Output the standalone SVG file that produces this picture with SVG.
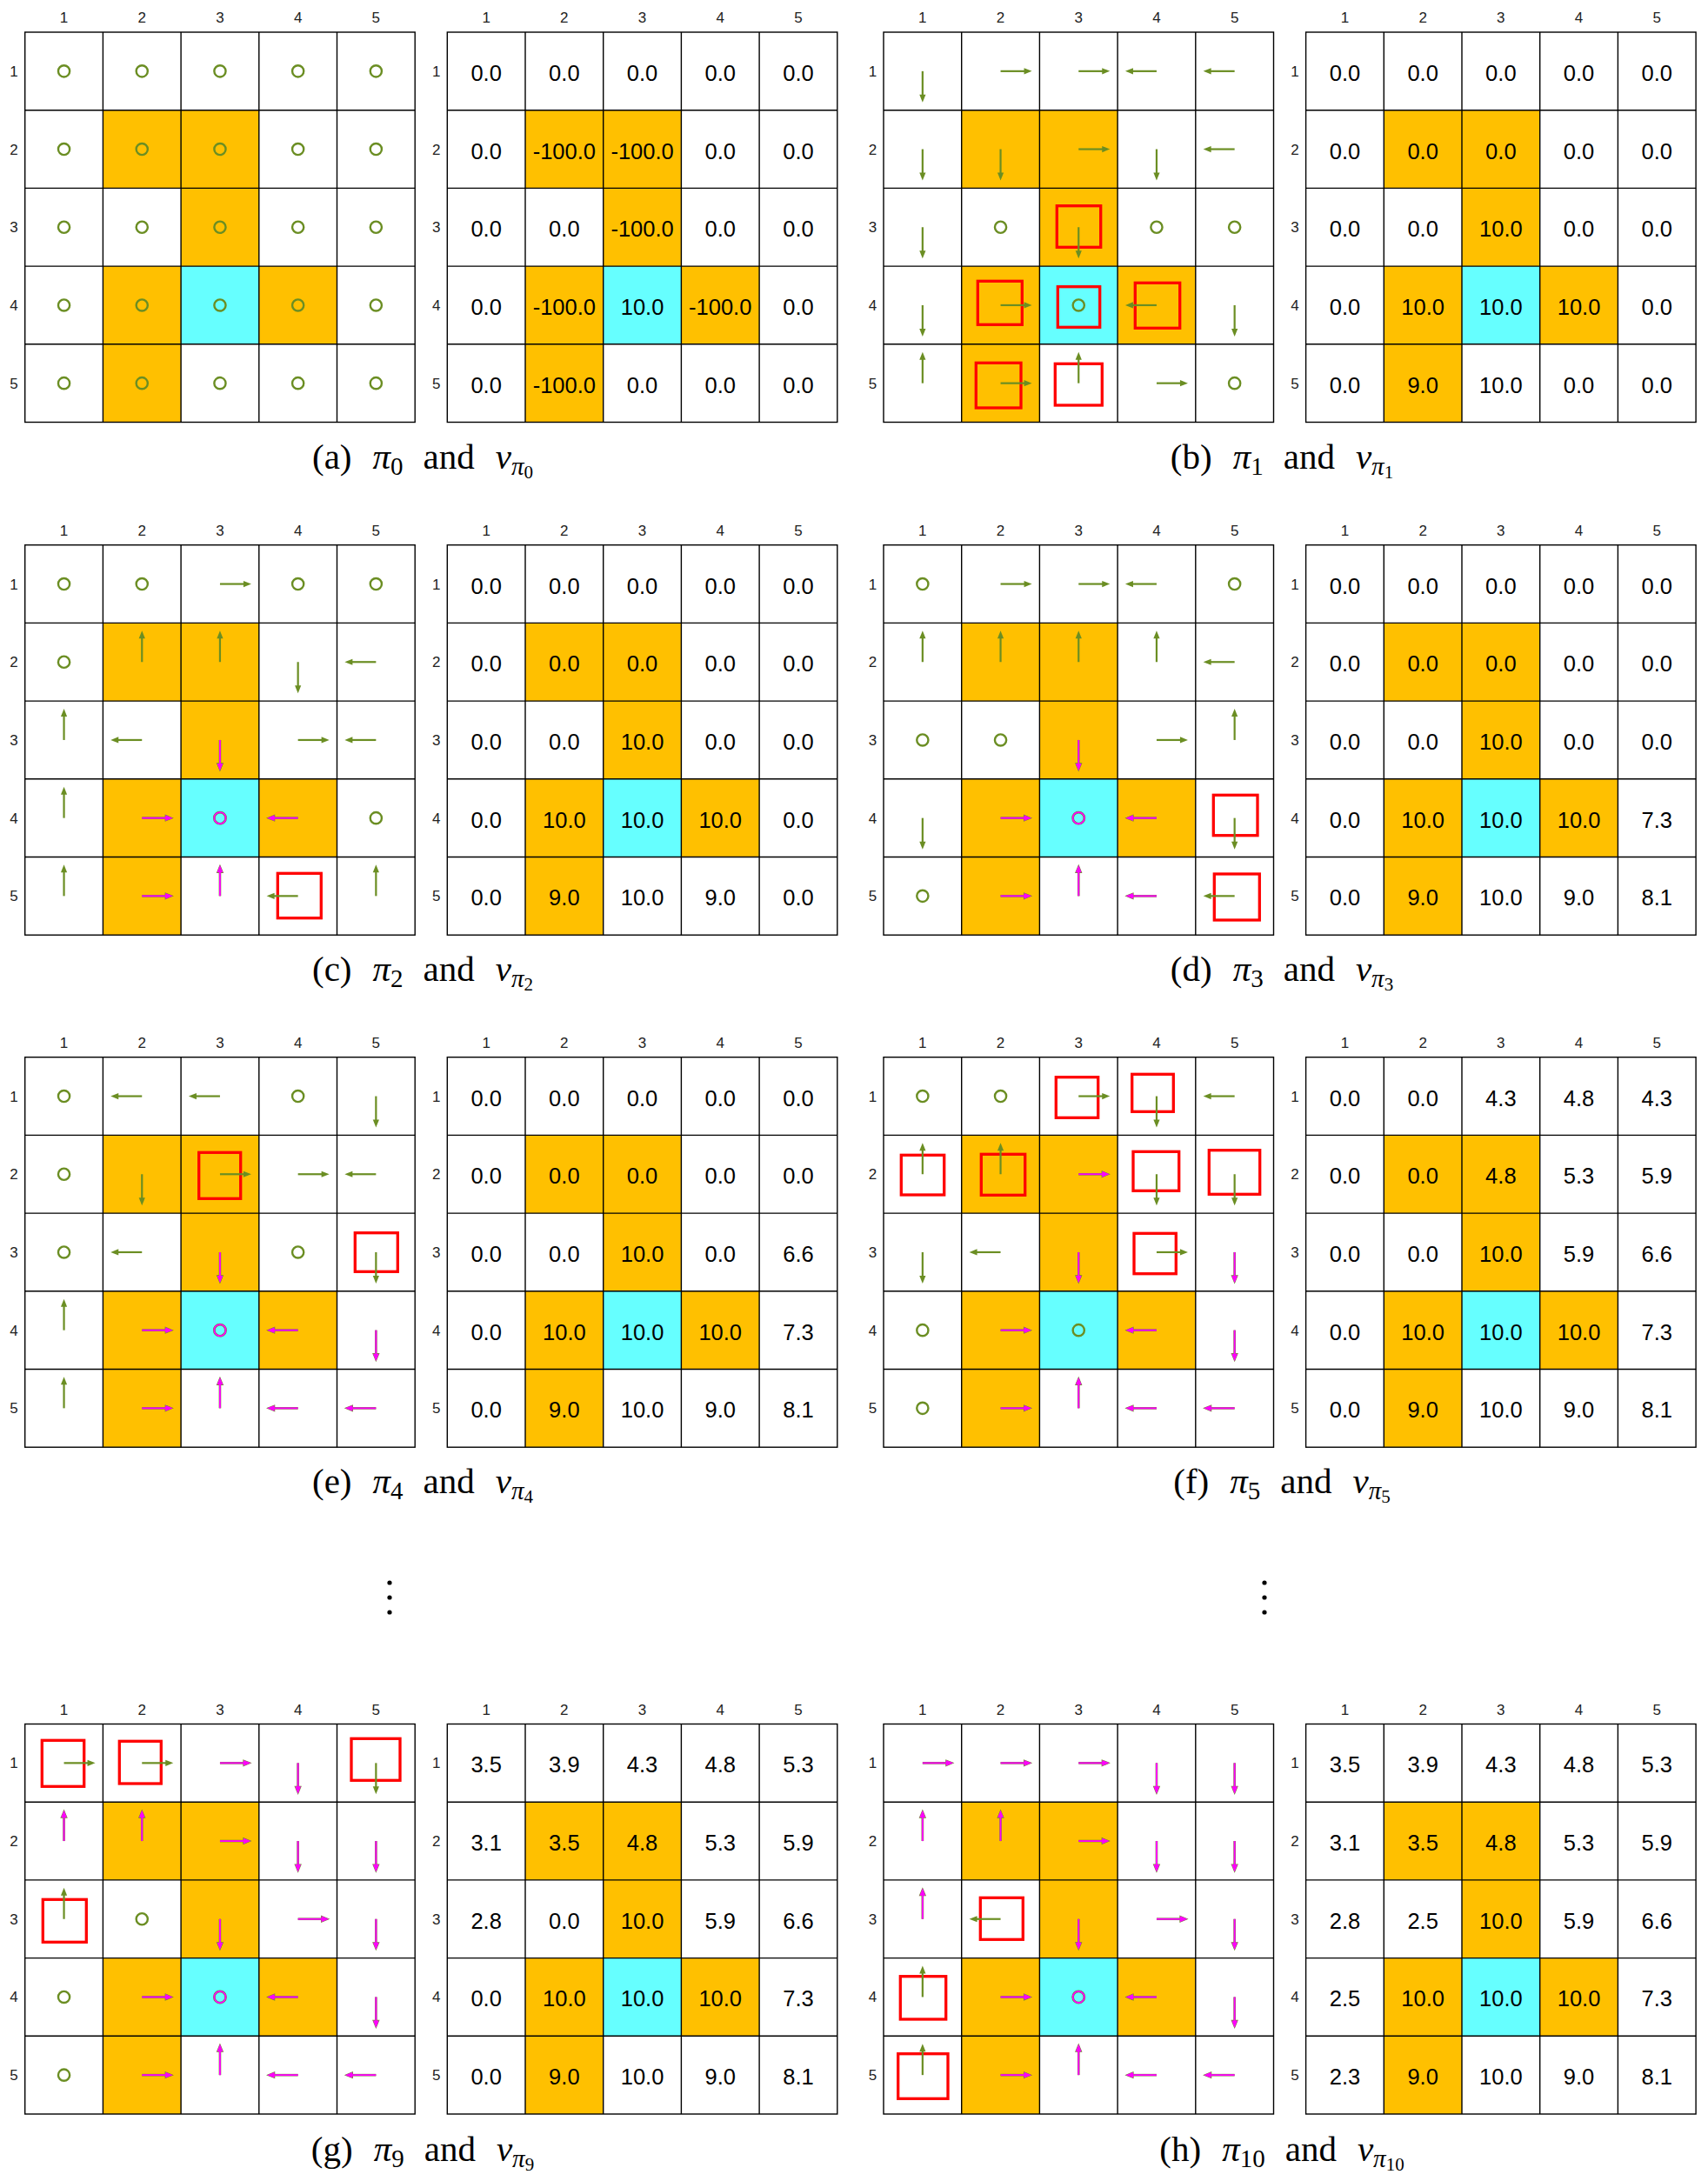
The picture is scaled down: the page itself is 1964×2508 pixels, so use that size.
<svg xmlns="http://www.w3.org/2000/svg" xmlns:xlink="http://www.w3.org/1999/xlink" width="1964" height="2508" viewBox="0 0 1964 2508">
<style>
.o{fill:#FFC000}.c{fill:#66FFFF}
.ln{fill:none;stroke:#000;stroke-width:1.4}
.gs{stroke:#6B8E23;stroke-width:2.2;fill:none}
.gf{fill:#6B8E23}
.ms0{stroke:#6B8E23;stroke-width:2.6;fill:none}
.ms{stroke:#FF00FF;stroke-width:1.9;fill:none}
.mf{fill:#FF00FF}
.gc{fill:none;stroke:#6B8E23;stroke-width:2.4}
.gc2{fill:none;stroke:#6B8E23;stroke-width:2.7}
.mc{fill:none;stroke:#FF00FF;stroke-width:1.8}
.lab{font-family:"Liberation Sans",Arial,sans-serif;font-size:17px;fill:#222;text-anchor:middle}
.v{font-family:"Liberation Sans",Arial,sans-serif;font-size:25.5px;fill:#000;text-anchor:middle}
.cap{font-family:"Liberation Serif","Times New Roman",serif;font-size:41px;fill:#000;text-anchor:middle}
.it{font-style:italic}
.rs{fill:none;stroke:#FF0000;stroke-width:3.3}
</style>
<defs>
<g id="fills"><rect x="89.7" y="89.7" width="179.4" height="89.7" class="o"/><rect x="179.4" y="179.4" width="89.7" height="89.7" class="o"/><rect x="89.7" y="269.1" width="89.7" height="179.4" class="o"/><rect x="269.1" y="269.1" width="89.7" height="89.7" class="o"/><rect x="179.4" y="269.1" width="89.7" height="89.7" class="c"/></g>
<g id="lines"><rect x="0" y="0" width="448.5" height="448.5" class="ln"/><path class="ln" d="M89.7,0V448.5M179.4,0V448.5M269.1,0V448.5M358.8,0V448.5M0,89.7H448.5M0,179.4H448.5M0,269.1H448.5M0,358.8H448.5"/></g>
<g id="lab"><text class="lab" x="44.85" y="-11">1</text><text class="lab" x="134.55" y="-11">2</text><text class="lab" x="224.25" y="-11">3</text><text class="lab" x="313.95" y="-11">4</text><text class="lab" x="403.65" y="-11">5</text><text class="lab" x="-12.6" y="50.85">1</text><text class="lab" x="-12.6" y="140.55">2</text><text class="lab" x="-12.6" y="230.25">3</text><text class="lab" x="-12.6" y="319.95">4</text><text class="lab" x="-12.6" y="409.65">5</text></g>
<g id="gR"><path d="M0,0H28" class="gs"/><path d="M27,-3.6L36,0L27,3.6Z" class="gf"/></g>
<g id="gL" transform="rotate(180)"><use href="#gR"/></g>
<g id="gU" transform="rotate(-90)"><use href="#gR"/></g>
<g id="gD" transform="rotate(90)"><use href="#gR"/></g>
<g id="mR"><path d="M0,0H28" class="ms0"/><path d="M26.4,-4.2L36.6,0L26.4,4.2Z" class="gf"/><path d="M0,0H28" class="ms"/><path d="M27,-3.4L35.6,0L27,3.4Z" class="mf"/></g>
<g id="mL" transform="rotate(180)"><use href="#mR"/></g>
<g id="mU" transform="rotate(-90)"><use href="#mR"/></g>
<g id="mD" transform="rotate(90)"><use href="#mR"/></g>
<circle id="gC" r="6.6" class="gc"/>
<g id="mC"><circle r="6.6" class="gc2"/><circle r="6.6" class="mc"/></g>
</defs>
<rect width="1964" height="2508" fill="#fff"/>

<!-- panel a -->
<g id="panel-a">
<g id="a-policy" transform="translate(28.7,37)"><use href="#fills"/><use href="#lines"/><use href="#lab"/>
<use href="#gC" x="44.85" y="44.85"/><use href="#gC" x="134.55" y="44.85"/><use href="#gC" x="224.25" y="44.85"/><use href="#gC" x="313.95" y="44.85"/><use href="#gC" x="403.65" y="44.85"/>
<use href="#gC" x="44.85" y="134.55"/><use href="#gC" x="134.55" y="134.55"/><use href="#gC" x="224.25" y="134.55"/><use href="#gC" x="313.95" y="134.55"/><use href="#gC" x="403.65" y="134.55"/>
<use href="#gC" x="44.85" y="224.25"/><use href="#gC" x="134.55" y="224.25"/><use href="#gC" x="224.25" y="224.25"/><use href="#gC" x="313.95" y="224.25"/><use href="#gC" x="403.65" y="224.25"/>
<use href="#gC" x="44.85" y="313.95"/><use href="#gC" x="134.55" y="313.95"/><use href="#gC" x="224.25" y="313.95"/><use href="#gC" x="313.95" y="313.95"/><use href="#gC" x="403.65" y="313.95"/>
<use href="#gC" x="44.85" y="403.65"/><use href="#gC" x="134.55" y="403.65"/><use href="#gC" x="224.25" y="403.65"/><use href="#gC" x="313.95" y="403.65"/><use href="#gC" x="403.65" y="403.65"/>
</g>
<g id="a-values" transform="translate(514.3,37)"><use href="#fills"/><use href="#lines"/><use href="#lab"/>
<text class="v" x="44.85" y="55.85">0.0</text><text class="v" x="134.55" y="55.85">0.0</text><text class="v" x="224.25" y="55.85">0.0</text><text class="v" x="313.95" y="55.85">0.0</text><text class="v" x="403.65" y="55.85">0.0</text>
<text class="v" x="44.85" y="145.55">0.0</text><text class="v" x="134.55" y="145.55">-100.0</text><text class="v" x="224.25" y="145.55">-100.0</text><text class="v" x="313.95" y="145.55">0.0</text><text class="v" x="403.65" y="145.55">0.0</text>
<text class="v" x="44.85" y="235.25">0.0</text><text class="v" x="134.55" y="235.25">0.0</text><text class="v" x="224.25" y="235.25">-100.0</text><text class="v" x="313.95" y="235.25">0.0</text><text class="v" x="403.65" y="235.25">0.0</text>
<text class="v" x="44.85" y="324.95">0.0</text><text class="v" x="134.55" y="324.95">-100.0</text><text class="v" x="224.25" y="324.95">10.0</text><text class="v" x="313.95" y="324.95">-100.0</text><text class="v" x="403.65" y="324.95">0.0</text>
<text class="v" x="44.85" y="414.65">0.0</text><text class="v" x="134.55" y="414.65">-100.0</text><text class="v" x="224.25" y="414.65">0.0</text><text class="v" x="313.95" y="414.65">0.0</text><text class="v" x="403.65" y="414.65">0.0</text>
</g>
<text class="cap" x="486" y="538.6">(a)<tspan dx="24" class="it">π</tspan><tspan font-size="29" dy="7">0</tspan><tspan dx="23" dy="-7">and</tspan><tspan dx="24" class="it">v</tspan><tspan font-size="29" dy="7" class="it">π</tspan><tspan font-size="21" dy="4">0</tspan></text>
</g>

<!-- panel b -->
<g id="panel-b">
<g id="b-policy"><g transform="translate(1016,37)"><use href="#fills"/><use href="#lines"/><use href="#lab"/></g>
<rect class="rs" x="1215.3" y="236.7" width="50.4" height="47.6"/><rect class="rs" x="1216.3" y="329.7" width="48.4" height="46.6"/><rect class="rs" x="1124.3" y="323.3" width="51" height="50"/><rect class="rs" x="1305.3" y="325.3" width="51.4" height="52"/><rect class="rs" x="1122.3" y="417.3" width="51.7" height="51.7"/><rect class="rs" x="1213.3" y="418.3" width="54" height="47.7"/>
<g transform="translate(1016,37)">
<use href="#gD" x="44.85" y="44.85"/><use href="#gR" x="134.55" y="44.85"/><use href="#gR" x="224.25" y="44.85"/><use href="#gL" x="313.95" y="44.85"/><use href="#gL" x="403.65" y="44.85"/>
<use href="#gD" x="44.85" y="134.55"/><use href="#gD" x="134.55" y="134.55"/><use href="#gR" x="224.25" y="134.55"/><use href="#gD" x="313.95" y="134.55"/><use href="#gL" x="403.65" y="134.55"/>
<use href="#gD" x="44.85" y="224.25"/><use href="#gC" x="134.55" y="224.25"/><use href="#gD" x="224.25" y="224.25"/><use href="#gC" x="313.95" y="224.25"/><use href="#gC" x="403.65" y="224.25"/>
<use href="#gD" x="44.85" y="313.95"/><use href="#gR" x="134.55" y="313.95"/><use href="#gC" x="224.25" y="313.95"/><use href="#gL" x="313.95" y="313.95"/><use href="#gD" x="403.65" y="313.95"/>
<use href="#gU" x="44.85" y="403.65"/><use href="#gR" x="134.55" y="403.65"/><use href="#gU" x="224.25" y="403.65"/><use href="#gR" x="313.95" y="403.65"/><use href="#gC" x="403.65" y="403.65"/>
</g></g>
<g id="b-values" transform="translate(1501.6,37)"><use href="#fills"/><use href="#lines"/><use href="#lab"/>
<text class="v" x="44.85" y="55.85">0.0</text><text class="v" x="134.55" y="55.85">0.0</text><text class="v" x="224.25" y="55.85">0.0</text><text class="v" x="313.95" y="55.85">0.0</text><text class="v" x="403.65" y="55.85">0.0</text>
<text class="v" x="44.85" y="145.55">0.0</text><text class="v" x="134.55" y="145.55">0.0</text><text class="v" x="224.25" y="145.55">0.0</text><text class="v" x="313.95" y="145.55">0.0</text><text class="v" x="403.65" y="145.55">0.0</text>
<text class="v" x="44.85" y="235.25">0.0</text><text class="v" x="134.55" y="235.25">0.0</text><text class="v" x="224.25" y="235.25">10.0</text><text class="v" x="313.95" y="235.25">0.0</text><text class="v" x="403.65" y="235.25">0.0</text>
<text class="v" x="44.85" y="324.95">0.0</text><text class="v" x="134.55" y="324.95">10.0</text><text class="v" x="224.25" y="324.95">10.0</text><text class="v" x="313.95" y="324.95">10.0</text><text class="v" x="403.65" y="324.95">0.0</text>
<text class="v" x="44.85" y="414.65">0.0</text><text class="v" x="134.55" y="414.65">9.0</text><text class="v" x="224.25" y="414.65">10.0</text><text class="v" x="313.95" y="414.65">0.0</text><text class="v" x="403.65" y="414.65">0.0</text>
</g>
<text class="cap" x="1474" y="538.6">(b)<tspan dx="24" class="it">π</tspan><tspan font-size="29" dy="7">1</tspan><tspan dx="23" dy="-7">and</tspan><tspan dx="24" class="it">v</tspan><tspan font-size="29" dy="7" class="it">π</tspan><tspan font-size="21" dy="4">1</tspan></text>
</g>

<!-- panel c -->
<g id="panel-c">
<g id="c-policy"><g transform="translate(28.7,626.7)"><use href="#fills"/><use href="#lines"/><use href="#lab"/></g>
<rect class="rs" x="319.3" y="1004.3" width="50" height="51.4"/>
<g transform="translate(28.7,626.7)">
<use href="#gC" x="44.85" y="44.85"/><use href="#gC" x="134.55" y="44.85"/><use href="#gR" x="224.25" y="44.85"/><use href="#gC" x="313.95" y="44.85"/><use href="#gC" x="403.65" y="44.85"/>
<use href="#gC" x="44.85" y="134.55"/><use href="#gU" x="134.55" y="134.55"/><use href="#gU" x="224.25" y="134.55"/><use href="#gD" x="313.95" y="134.55"/><use href="#gL" x="403.65" y="134.55"/>
<use href="#gU" x="44.85" y="224.25"/><use href="#gL" x="134.55" y="224.25"/><use href="#mD" x="224.25" y="224.25"/><use href="#gR" x="313.95" y="224.25"/><use href="#gL" x="403.65" y="224.25"/>
<use href="#gU" x="44.85" y="313.95"/><use href="#mR" x="134.55" y="313.95"/><use href="#mC" x="224.25" y="313.95"/><use href="#mL" x="313.95" y="313.95"/><use href="#gC" x="403.65" y="313.95"/>
<use href="#gU" x="44.85" y="403.65"/><use href="#mR" x="134.55" y="403.65"/><use href="#mU" x="224.25" y="403.65"/><use href="#gL" x="313.95" y="403.65"/><use href="#gU" x="403.65" y="403.65"/>
</g></g>
<g id="c-values" transform="translate(514.3,626.7)"><use href="#fills"/><use href="#lines"/><use href="#lab"/>
<text class="v" x="44.85" y="55.85">0.0</text><text class="v" x="134.55" y="55.85">0.0</text><text class="v" x="224.25" y="55.85">0.0</text><text class="v" x="313.95" y="55.85">0.0</text><text class="v" x="403.65" y="55.85">0.0</text>
<text class="v" x="44.85" y="145.55">0.0</text><text class="v" x="134.55" y="145.55">0.0</text><text class="v" x="224.25" y="145.55">0.0</text><text class="v" x="313.95" y="145.55">0.0</text><text class="v" x="403.65" y="145.55">0.0</text>
<text class="v" x="44.85" y="235.25">0.0</text><text class="v" x="134.55" y="235.25">0.0</text><text class="v" x="224.25" y="235.25">10.0</text><text class="v" x="313.95" y="235.25">0.0</text><text class="v" x="403.65" y="235.25">0.0</text>
<text class="v" x="44.85" y="324.95">0.0</text><text class="v" x="134.55" y="324.95">10.0</text><text class="v" x="224.25" y="324.95">10.0</text><text class="v" x="313.95" y="324.95">10.0</text><text class="v" x="403.65" y="324.95">0.0</text>
<text class="v" x="44.85" y="414.65">0.0</text><text class="v" x="134.55" y="414.65">9.0</text><text class="v" x="224.25" y="414.65">10.0</text><text class="v" x="313.95" y="414.65">9.0</text><text class="v" x="403.65" y="414.65">0.0</text>
</g>
<text class="cap" x="486" y="1128.3">(c)<tspan dx="24" class="it">π</tspan><tspan font-size="29" dy="7">2</tspan><tspan dx="23" dy="-7">and</tspan><tspan dx="24" class="it">v</tspan><tspan font-size="29" dy="7" class="it">π</tspan><tspan font-size="21" dy="4">2</tspan></text>
</g>

<!-- panel d -->
<g id="panel-d">
<g id="d-policy"><g transform="translate(1016,626.7)"><use href="#fills"/><use href="#lines"/><use href="#lab"/></g>
<rect class="rs" x="1395.3" y="914.3" width="50.7" height="46.4"/><rect class="rs" x="1396.3" y="1005" width="52" height="53"/>
<g transform="translate(1016,626.7)">
<use href="#gC" x="44.85" y="44.85"/><use href="#gR" x="134.55" y="44.85"/><use href="#gR" x="224.25" y="44.85"/><use href="#gL" x="313.95" y="44.85"/><use href="#gC" x="403.65" y="44.85"/>
<use href="#gU" x="44.85" y="134.55"/><use href="#gU" x="134.55" y="134.55"/><use href="#gU" x="224.25" y="134.55"/><use href="#gU" x="313.95" y="134.55"/><use href="#gL" x="403.65" y="134.55"/>
<use href="#gC" x="44.85" y="224.25"/><use href="#gC" x="134.55" y="224.25"/><use href="#mD" x="224.25" y="224.25"/><use href="#gR" x="313.95" y="224.25"/><use href="#gU" x="403.65" y="224.25"/>
<use href="#gD" x="44.85" y="313.95"/><use href="#mR" x="134.55" y="313.95"/><use href="#mC" x="224.25" y="313.95"/><use href="#mL" x="313.95" y="313.95"/><use href="#gD" x="403.65" y="313.95"/>
<use href="#gC" x="44.85" y="403.65"/><use href="#mR" x="134.55" y="403.65"/><use href="#mU" x="224.25" y="403.65"/><use href="#mL" x="313.95" y="403.65"/><use href="#gL" x="403.65" y="403.65"/>
</g></g>
<g id="d-values" transform="translate(1501.6,626.7)"><use href="#fills"/><use href="#lines"/><use href="#lab"/>
<text class="v" x="44.85" y="55.85">0.0</text><text class="v" x="134.55" y="55.85">0.0</text><text class="v" x="224.25" y="55.85">0.0</text><text class="v" x="313.95" y="55.85">0.0</text><text class="v" x="403.65" y="55.85">0.0</text>
<text class="v" x="44.85" y="145.55">0.0</text><text class="v" x="134.55" y="145.55">0.0</text><text class="v" x="224.25" y="145.55">0.0</text><text class="v" x="313.95" y="145.55">0.0</text><text class="v" x="403.65" y="145.55">0.0</text>
<text class="v" x="44.85" y="235.25">0.0</text><text class="v" x="134.55" y="235.25">0.0</text><text class="v" x="224.25" y="235.25">10.0</text><text class="v" x="313.95" y="235.25">0.0</text><text class="v" x="403.65" y="235.25">0.0</text>
<text class="v" x="44.85" y="324.95">0.0</text><text class="v" x="134.55" y="324.95">10.0</text><text class="v" x="224.25" y="324.95">10.0</text><text class="v" x="313.95" y="324.95">10.0</text><text class="v" x="403.65" y="324.95">7.3</text>
<text class="v" x="44.85" y="414.65">0.0</text><text class="v" x="134.55" y="414.65">9.0</text><text class="v" x="224.25" y="414.65">10.0</text><text class="v" x="313.95" y="414.65">9.0</text><text class="v" x="403.65" y="414.65">8.1</text>
</g>
<text class="cap" x="1474" y="1128.3">(d)<tspan dx="24" class="it">π</tspan><tspan font-size="29" dy="7">3</tspan><tspan dx="23" dy="-7">and</tspan><tspan dx="24" class="it">v</tspan><tspan font-size="29" dy="7" class="it">π</tspan><tspan font-size="21" dy="4">3</tspan></text>
</g>

<!-- panel e -->
<g id="panel-e">
<g id="e-policy"><g transform="translate(28.7,1215.7)"><use href="#fills"/><use href="#lines"/><use href="#lab"/></g>
<rect class="rs" x="228.7" y="1325.3" width="48" height="53"/><rect class="rs" x="408.3" y="1417.7" width="49" height="44.6"/>
<g transform="translate(28.7,1215.7)">
<use href="#gC" x="44.85" y="44.85"/><use href="#gL" x="134.55" y="44.85"/><use href="#gL" x="224.25" y="44.85"/><use href="#gC" x="313.95" y="44.85"/><use href="#gD" x="403.65" y="44.85"/>
<use href="#gC" x="44.85" y="134.55"/><use href="#gD" x="134.55" y="134.55"/><use href="#gR" x="224.25" y="134.55"/><use href="#gR" x="313.95" y="134.55"/><use href="#gL" x="403.65" y="134.55"/>
<use href="#gC" x="44.85" y="224.25"/><use href="#gL" x="134.55" y="224.25"/><use href="#mD" x="224.25" y="224.25"/><use href="#gC" x="313.95" y="224.25"/><use href="#gD" x="403.65" y="224.25"/>
<use href="#gU" x="44.85" y="313.95"/><use href="#mR" x="134.55" y="313.95"/><use href="#mC" x="224.25" y="313.95"/><use href="#mL" x="313.95" y="313.95"/><use href="#mD" x="403.65" y="313.95"/>
<use href="#gU" x="44.85" y="403.65"/><use href="#mR" x="134.55" y="403.65"/><use href="#mU" x="224.25" y="403.65"/><use href="#mL" x="313.95" y="403.65"/><use href="#mL" x="403.65" y="403.65"/>
</g></g>
<g id="e-values" transform="translate(514.3,1215.7)"><use href="#fills"/><use href="#lines"/><use href="#lab"/>
<text class="v" x="44.85" y="55.85">0.0</text><text class="v" x="134.55" y="55.85">0.0</text><text class="v" x="224.25" y="55.85">0.0</text><text class="v" x="313.95" y="55.85">0.0</text><text class="v" x="403.65" y="55.85">0.0</text>
<text class="v" x="44.85" y="145.55">0.0</text><text class="v" x="134.55" y="145.55">0.0</text><text class="v" x="224.25" y="145.55">0.0</text><text class="v" x="313.95" y="145.55">0.0</text><text class="v" x="403.65" y="145.55">0.0</text>
<text class="v" x="44.85" y="235.25">0.0</text><text class="v" x="134.55" y="235.25">0.0</text><text class="v" x="224.25" y="235.25">10.0</text><text class="v" x="313.95" y="235.25">0.0</text><text class="v" x="403.65" y="235.25">6.6</text>
<text class="v" x="44.85" y="324.95">0.0</text><text class="v" x="134.55" y="324.95">10.0</text><text class="v" x="224.25" y="324.95">10.0</text><text class="v" x="313.95" y="324.95">10.0</text><text class="v" x="403.65" y="324.95">7.3</text>
<text class="v" x="44.85" y="414.65">0.0</text><text class="v" x="134.55" y="414.65">9.0</text><text class="v" x="224.25" y="414.65">10.0</text><text class="v" x="313.95" y="414.65">9.0</text><text class="v" x="403.65" y="414.65">8.1</text>
</g>
<text class="cap" x="486" y="1717.3">(e)<tspan dx="24" class="it">π</tspan><tspan font-size="29" dy="7">4</tspan><tspan dx="23" dy="-7">and</tspan><tspan dx="24" class="it">v</tspan><tspan font-size="29" dy="7" class="it">π</tspan><tspan font-size="21" dy="4">4</tspan></text>
</g>

<!-- panel f -->
<g id="panel-f">
<g id="f-policy"><g transform="translate(1016,1215.7)"><use href="#fills"/><use href="#lines"/><use href="#lab"/></g>
<rect class="rs" x="1214.3" y="1238.7" width="48.4" height="46.6"/><rect class="rs" x="1301.7" y="1235.3" width="47.6" height="43"/><rect class="rs" x="1036.3" y="1328.3" width="49.4" height="45.7"/><rect class="rs" x="1128.3" y="1327.3" width="50.4" height="47"/><rect class="rs" x="1303" y="1324.3" width="52.7" height="45"/><rect class="rs" x="1390.3" y="1322.7" width="58.4" height="50.6"/><rect class="rs" x="1304" y="1418.3" width="48.3" height="46.4"/>
<g transform="translate(1016,1215.7)">
<use href="#gC" x="44.85" y="44.85"/><use href="#gC" x="134.55" y="44.85"/><use href="#gR" x="224.25" y="44.85"/><use href="#gD" x="313.95" y="44.85"/><use href="#gL" x="403.65" y="44.85"/>
<use href="#gU" x="44.85" y="134.55"/><use href="#gU" x="134.55" y="134.55"/><use href="#mR" x="224.25" y="134.55"/><use href="#gD" x="313.95" y="134.55"/><use href="#gD" x="403.65" y="134.55"/>
<use href="#gD" x="44.85" y="224.25"/><use href="#gL" x="134.55" y="224.25"/><use href="#mD" x="224.25" y="224.25"/><use href="#gR" x="313.95" y="224.25"/><use href="#mD" x="403.65" y="224.25"/>
<use href="#gC" x="44.85" y="313.95"/><use href="#mR" x="134.55" y="313.95"/><use href="#gC" x="224.25" y="313.95"/><use href="#mL" x="313.95" y="313.95"/><use href="#mD" x="403.65" y="313.95"/>
<use href="#gC" x="44.85" y="403.65"/><use href="#mR" x="134.55" y="403.65"/><use href="#mU" x="224.25" y="403.65"/><use href="#mL" x="313.95" y="403.65"/><use href="#mL" x="403.65" y="403.65"/>
</g></g>
<g id="f-values" transform="translate(1501.6,1215.7)"><use href="#fills"/><use href="#lines"/><use href="#lab"/>
<text class="v" x="44.85" y="55.85">0.0</text><text class="v" x="134.55" y="55.85">0.0</text><text class="v" x="224.25" y="55.85">4.3</text><text class="v" x="313.95" y="55.85">4.8</text><text class="v" x="403.65" y="55.85">4.3</text>
<text class="v" x="44.85" y="145.55">0.0</text><text class="v" x="134.55" y="145.55">0.0</text><text class="v" x="224.25" y="145.55">4.8</text><text class="v" x="313.95" y="145.55">5.3</text><text class="v" x="403.65" y="145.55">5.9</text>
<text class="v" x="44.85" y="235.25">0.0</text><text class="v" x="134.55" y="235.25">0.0</text><text class="v" x="224.25" y="235.25">10.0</text><text class="v" x="313.95" y="235.25">5.9</text><text class="v" x="403.65" y="235.25">6.6</text>
<text class="v" x="44.85" y="324.95">0.0</text><text class="v" x="134.55" y="324.95">10.0</text><text class="v" x="224.25" y="324.95">10.0</text><text class="v" x="313.95" y="324.95">10.0</text><text class="v" x="403.65" y="324.95">7.3</text>
<text class="v" x="44.85" y="414.65">0.0</text><text class="v" x="134.55" y="414.65">9.0</text><text class="v" x="224.25" y="414.65">10.0</text><text class="v" x="313.95" y="414.65">9.0</text><text class="v" x="403.65" y="414.65">8.1</text>
</g>
<text class="cap" x="1474" y="1717.3">(f)<tspan dx="24" class="it">π</tspan><tspan font-size="29" dy="7">5</tspan><tspan dx="23" dy="-7">and</tspan><tspan dx="24" class="it">v</tspan><tspan font-size="29" dy="7" class="it">π</tspan><tspan font-size="21" dy="4">5</tspan></text>
</g>

<!-- ellipsis dots -->
<g id="dots">
<circle cx="448" cy="1820" r="2.6"/><circle cx="448" cy="1837" r="2.6"/><circle cx="448" cy="1854" r="2.6"/>
<circle cx="1454" cy="1820" r="2.6"/><circle cx="1454" cy="1837" r="2.6"/><circle cx="1454" cy="1854" r="2.6"/>
</g>

<!-- panel g -->
<g id="panel-g">
<g id="g-policy"><g transform="translate(28.7,1982.5)"><use href="#fills"/><use href="#lines"/><use href="#lab"/></g>
<rect class="rs" x="48.3" y="2001.3" width="48.4" height="53"/><rect class="rs" x="137.3" y="2002.3" width="48" height="48.7"/><rect class="rs" x="404" y="1999.3" width="56" height="48"/><rect class="rs" x="49.3" y="2184.3" width="50" height="49"/>
<g transform="translate(28.7,1982.5)">
<use href="#gR" x="44.85" y="44.85"/><use href="#gR" x="134.55" y="44.85"/><use href="#mR" x="224.25" y="44.85"/><use href="#mD" x="313.95" y="44.85"/><use href="#gD" x="403.65" y="44.85"/>
<use href="#mU" x="44.85" y="134.55"/><use href="#mU" x="134.55" y="134.55"/><use href="#mR" x="224.25" y="134.55"/><use href="#mD" x="313.95" y="134.55"/><use href="#mD" x="403.65" y="134.55"/>
<use href="#gU" x="44.85" y="224.25"/><use href="#gC" x="134.55" y="224.25"/><use href="#mD" x="224.25" y="224.25"/><use href="#mR" x="313.95" y="224.25"/><use href="#mD" x="403.65" y="224.25"/>
<use href="#gC" x="44.85" y="313.95"/><use href="#mR" x="134.55" y="313.95"/><use href="#mC" x="224.25" y="313.95"/><use href="#mL" x="313.95" y="313.95"/><use href="#mD" x="403.65" y="313.95"/>
<use href="#gC" x="44.85" y="403.65"/><use href="#mR" x="134.55" y="403.65"/><use href="#mU" x="224.25" y="403.65"/><use href="#mL" x="313.95" y="403.65"/><use href="#mL" x="403.65" y="403.65"/>
</g></g>
<g id="g-values" transform="translate(514.3,1982.5)"><use href="#fills"/><use href="#lines"/><use href="#lab"/>
<text class="v" x="44.85" y="55.85">3.5</text><text class="v" x="134.55" y="55.85">3.9</text><text class="v" x="224.25" y="55.85">4.3</text><text class="v" x="313.95" y="55.85">4.8</text><text class="v" x="403.65" y="55.85">5.3</text>
<text class="v" x="44.85" y="145.55">3.1</text><text class="v" x="134.55" y="145.55">3.5</text><text class="v" x="224.25" y="145.55">4.8</text><text class="v" x="313.95" y="145.55">5.3</text><text class="v" x="403.65" y="145.55">5.9</text>
<text class="v" x="44.85" y="235.25">2.8</text><text class="v" x="134.55" y="235.25">0.0</text><text class="v" x="224.25" y="235.25">10.0</text><text class="v" x="313.95" y="235.25">5.9</text><text class="v" x="403.65" y="235.25">6.6</text>
<text class="v" x="44.85" y="324.95">0.0</text><text class="v" x="134.55" y="324.95">10.0</text><text class="v" x="224.25" y="324.95">10.0</text><text class="v" x="313.95" y="324.95">10.0</text><text class="v" x="403.65" y="324.95">7.3</text>
<text class="v" x="44.85" y="414.65">0.0</text><text class="v" x="134.55" y="414.65">9.0</text><text class="v" x="224.25" y="414.65">10.0</text><text class="v" x="313.95" y="414.65">9.0</text><text class="v" x="403.65" y="414.65">8.1</text>
</g>
<text class="cap" x="486" y="2484.5">(g)<tspan dx="24" class="it">π</tspan><tspan font-size="29" dy="7">9</tspan><tspan dx="23" dy="-7">and</tspan><tspan dx="24" class="it">v</tspan><tspan font-size="29" dy="7" class="it">π</tspan><tspan font-size="21" dy="4">9</tspan></text>
</g>

<!-- panel h -->
<g id="panel-h">
<g id="h-policy"><g transform="translate(1016,1982.5)"><use href="#fills"/><use href="#lines"/><use href="#lab"/></g>
<rect class="rs" x="1127.3" y="2182.3" width="49" height="48"/><rect class="rs" x="1035.3" y="2272.7" width="52.4" height="49.3"/><rect class="rs" x="1032.7" y="2361.7" width="57.3" height="51.6"/>
<g transform="translate(1016,1982.5)">
<use href="#mR" x="44.85" y="44.85"/><use href="#mR" x="134.55" y="44.85"/><use href="#mR" x="224.25" y="44.85"/><use href="#mD" x="313.95" y="44.85"/><use href="#mD" x="403.65" y="44.85"/>
<use href="#mU" x="44.85" y="134.55"/><use href="#mU" x="134.55" y="134.55"/><use href="#mR" x="224.25" y="134.55"/><use href="#mD" x="313.95" y="134.55"/><use href="#mD" x="403.65" y="134.55"/>
<use href="#mU" x="44.85" y="224.25"/><use href="#gL" x="134.55" y="224.25"/><use href="#mD" x="224.25" y="224.25"/><use href="#mR" x="313.95" y="224.25"/><use href="#mD" x="403.65" y="224.25"/>
<use href="#gU" x="44.85" y="313.95"/><use href="#mR" x="134.55" y="313.95"/><use href="#mC" x="224.25" y="313.95"/><use href="#mL" x="313.95" y="313.95"/><use href="#mD" x="403.65" y="313.95"/>
<use href="#gU" x="44.85" y="403.65"/><use href="#mR" x="134.55" y="403.65"/><use href="#mU" x="224.25" y="403.65"/><use href="#mL" x="313.95" y="403.65"/><use href="#mL" x="403.65" y="403.65"/>
</g></g>
<g id="h-values" transform="translate(1501.6,1982.5)"><use href="#fills"/><use href="#lines"/><use href="#lab"/>
<text class="v" x="44.85" y="55.85">3.5</text><text class="v" x="134.55" y="55.85">3.9</text><text class="v" x="224.25" y="55.85">4.3</text><text class="v" x="313.95" y="55.85">4.8</text><text class="v" x="403.65" y="55.85">5.3</text>
<text class="v" x="44.85" y="145.55">3.1</text><text class="v" x="134.55" y="145.55">3.5</text><text class="v" x="224.25" y="145.55">4.8</text><text class="v" x="313.95" y="145.55">5.3</text><text class="v" x="403.65" y="145.55">5.9</text>
<text class="v" x="44.85" y="235.25">2.8</text><text class="v" x="134.55" y="235.25">2.5</text><text class="v" x="224.25" y="235.25">10.0</text><text class="v" x="313.95" y="235.25">5.9</text><text class="v" x="403.65" y="235.25">6.6</text>
<text class="v" x="44.85" y="324.95">2.5</text><text class="v" x="134.55" y="324.95">10.0</text><text class="v" x="224.25" y="324.95">10.0</text><text class="v" x="313.95" y="324.95">10.0</text><text class="v" x="403.65" y="324.95">7.3</text>
<text class="v" x="44.85" y="414.65">2.3</text><text class="v" x="134.55" y="414.65">9.0</text><text class="v" x="224.25" y="414.65">10.0</text><text class="v" x="313.95" y="414.65">9.0</text><text class="v" x="403.65" y="414.65">8.1</text>
</g>
<text class="cap" x="1474" y="2484.5">(h)<tspan dx="24" class="it">π</tspan><tspan font-size="29" dy="7">10</tspan><tspan dx="23" dy="-7">and</tspan><tspan dx="24" class="it">v</tspan><tspan font-size="29" dy="7" class="it">π</tspan><tspan font-size="21" dy="4">10</tspan></text>
</g>
</svg>
